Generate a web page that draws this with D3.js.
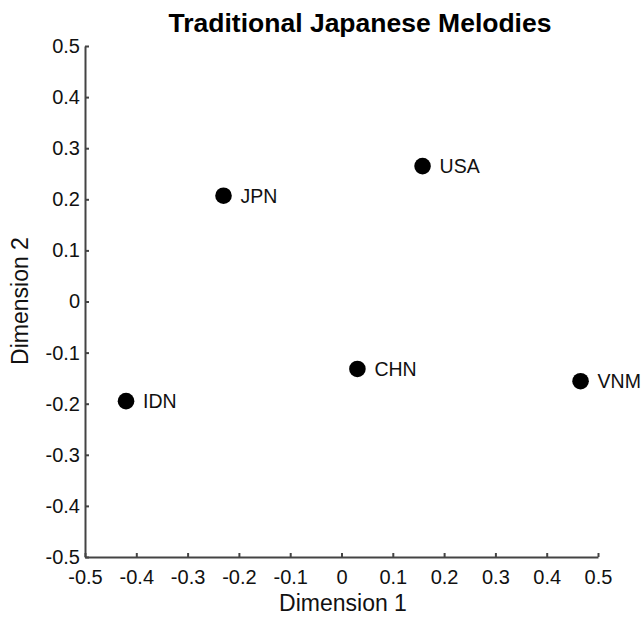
<!DOCTYPE html>
<html>
<head>
<meta charset="utf-8">
<script src="https://cdn.jsdelivr.net/npm/d3@7"></script>
<style>
  body { margin: 0; background: #fff; }
  text { font-family: "Liberation Sans", Arial, sans-serif; }
</style>
</head>
<body>
<div id="chart"></div>
<script>
// data
var countries = ["JPN", "USA", "CHN", "VNM", "IDN"]
var dim1 = [-0.230, 0.158, 0.031, 0.466, -0.420]
var dim2 = [0.207, 0.265, -0.132, -0.156, -0.195]
var tickValues = [-0.5, -0.4, -0.3, -0.2, -0.1, 0, 0.1, 0.2, 0.3, 0.4, 0.5]

var margin = {top: 46, right: 46, bottom: 60, left: 85}

var svg = d3.select("#chart")
    .append("svg")
    .attr("width", 644)
    .attr("height", 617)
    .append("g")
    .attr("transform", "translate(" + margin.left + "," + margin.top + ")")

var xPositionScale = d3.scaleLinear().domain([-0.5, 0.5]).range([0, 513])
var yPositionScale = d3.scaleLinear().domain([-0.5, 0.5]).range([511, 0])

var fmt = d => d === 0 ? "0" : d3.format(".1f")(d).replace("−", "-")

var xAxis = d3.axisBottom(xPositionScale).tickValues(tickValues).tickFormat(fmt)
    .tickSizeInner(-4).tickSizeOuter(0).tickPadding(13)
var yAxis = d3.axisLeft(yPositionScale).tickValues(tickValues).tickFormat(fmt)
    .tickSizeInner(-4).tickSizeOuter(0).tickPadding(5)

var datapoints = countries.map((c, i) => ({name: c, x: dim1[i], y: dim2[i]}))

svg.append("g")
  .attr("class", "axis x-axis")
  .attr("transform", "translate(0,511)")
  .call(xAxis)
svg.append("g")
  .attr("class", "axis y-axis")
  .call(yAxis)

svg.selectAll(".axis path, .axis line")
  .attr("stroke", "#444")
  .attr("stroke-width", 2)
svg.selectAll(".axis text")
  .attr("font-size", 20)
  .attr("fill", "#111")
  .style("font-family", "'Liberation Sans', Arial, sans-serif")

svg.selectAll("circle")
  .data(datapoints)
  .enter().append("circle")
  .attr("r", 8.3)
  .attr("cx", d => xPositionScale(d.x))
  .attr("cy", d => yPositionScale(d.y))
  .attr("fill", "#000")

svg.selectAll(".label")
  .data(datapoints)
  .enter().append("text")
  .attr("class", "label")
  .attr("x", d => xPositionScale(d.x) + 17)
  .attr("y", d => yPositionScale(d.y))
  .attr("dy", "0.35em")
  .attr("font-size", 19.5)
  .attr("fill", "#111")
  .text(d => d.name)

svg.append("text")
  .attr("x", 275)
  .attr("y", -14)
  .attr("text-anchor", "middle")
  .attr("font-size", 26.5)
  .attr("font-weight", "bold")
  .text("Traditional Japanese Melodies")

svg.append("text")
  .attr("x", 258)
  .attr("y", 565)
  .attr("text-anchor", "middle")
  .attr("font-size", 23)
  .attr("fill", "#111")
  .text("Dimension 1")

svg.append("text")
  .attr("transform", "translate(-57,255) rotate(-90)")
  .attr("text-anchor", "middle")
  .attr("font-size", 23)
  .attr("fill", "#111")
  .text("Dimension 2")
</script>
</body>
</html>
